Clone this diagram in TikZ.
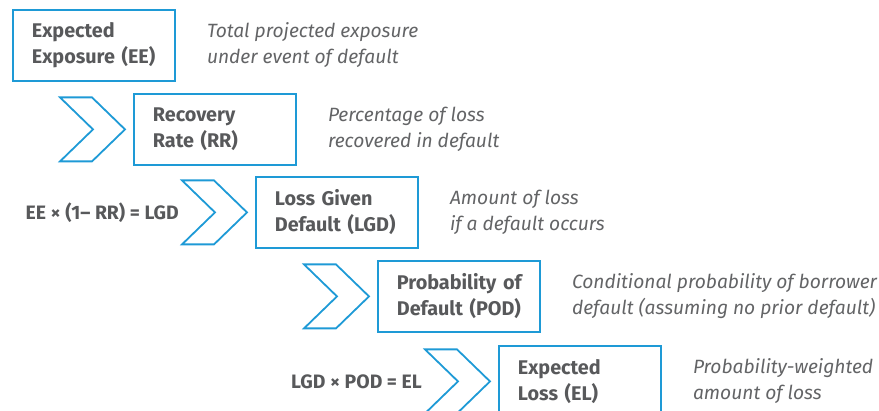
\documentclass[tikz,border=0pt]{standalone}
\usepackage{fontspec}
\setmainfont{Fira Sans}
\usetikzlibrary{positioning}
\definecolor{termblue}{HTML}{1E9AD6}
\definecolor{termgray}{HTML}{58595B}
\definecolor{notegray}{HTML}{636466}

\begin{document}
\begin{tikzpicture}[
    x=1pt, y=-1pt,
    term/.style={rectangle, draw=termblue, line width=1.8pt, anchor=north west,
      minimum width=162pt, minimum height=71pt, text width=124pt, inner xsep=19pt,
      align=left, text=termgray, font=\fontsize{19.8}{26}\selectfont\bfseries},
    note/.style={inner sep=0pt, align=left, text=notegray, font=\fontsize{19.2}{26}\selectfont\itshape},
    formula/.style={inner sep=0pt, text=termgray, font=\fontsize{19.4}{26}\selectfont\bfseries},
    chev/.pic={
      \draw[termblue, line width=1.8pt] (-65,-32) -- (-33,-32) -- (0,0) -- (-33,32) -- (-65,32) -- (-32,0) -- cycle;
      \coordinate (-tail) at (-65,0);
    },
]
  \clip (0,0) rectangle (879,411);

  % the five terms, stepping down to the right
  \node[term] (ee) at (12,9) {Expected\\Exposure~(EE)};
  \node[term] (rr) at (133,93) {Recovery\\Rate~(RR)};
  \node[term] (lgd) at (255,176) {Loss~Given\\Default~(LGD)};
  \node[term] (pod) at (377,260) {Probability~of\\Default~(POD)};
  \node[term] (el) at (498,345) {Expected\\Loss~(EL)};

  % chevrons in front of each step
  \pic (rrchev) at ([xshift=-8pt]rr.west) {chev};
  \pic (lgdchev) at ([xshift=-8pt]lgd.west) {chev};
  \pic (podchev) at ([xshift=-8pt]pod.west) {chev};
  \pic (elchev) at ([xshift=-8pt]el.west) {chev};

  % formulas
  \node[formula, left=3pt of lgdchev-tail] (lgdcalc) {EE × (1– RR) = LGD};
  \node[formula, left=3pt of elchev-tail] (elcalc) {LGD × POD = EL};

  % descriptions
  \node[note, right=31pt of ee] (eenote) {Total projected exposure\\under event of default};
  \node[note, right=31pt of rr] (rrnote) {Percentage of loss\\recovered in default};
  \node[note, right=31pt of lgd] (lgdnote) {Amount of loss\\if a default occurs};
  \node[note, right=31pt of pod] (podnote) {Conditional probability of borrower\\default (assuming no prior default)};
  \node[note, right=31pt of el] (elnote) {Probability-weighted\\amount of loss};
\end{tikzpicture}
\end{document}
